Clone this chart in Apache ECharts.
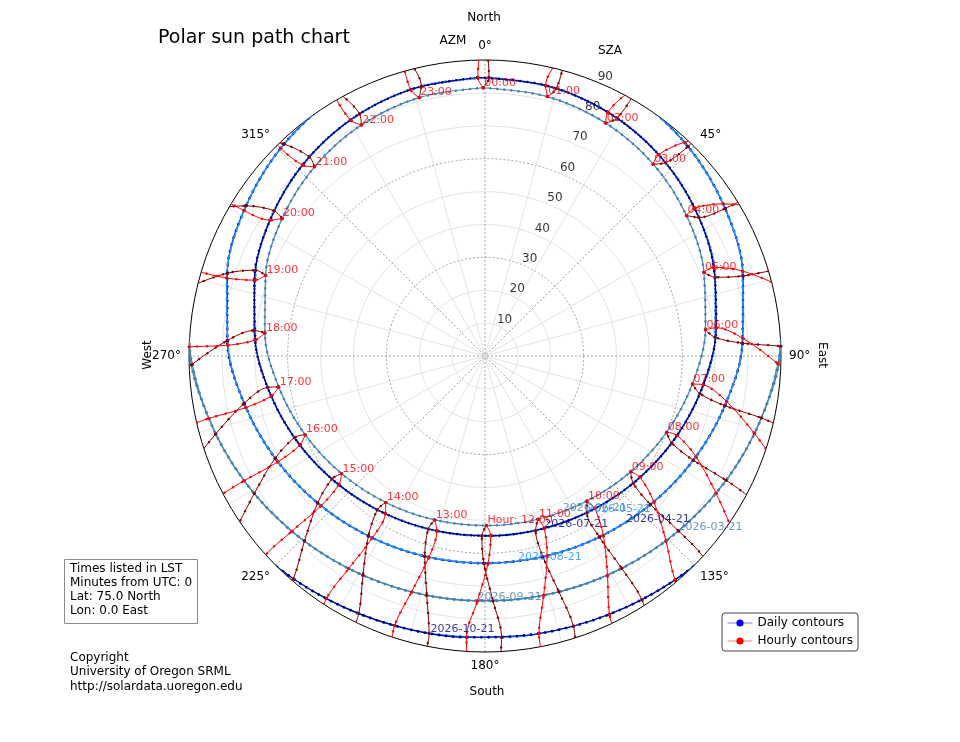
<!DOCTYPE html>
<html>
<head>
<meta charset="utf-8">
<title>Polar sun path chart</title>
<script src="https://cdn.jsdelivr.net/npm/echarts@6/dist/echarts.min.js"></script>
<style>
  html, body { margin: 0; padding: 0; background: #fff; }
  #main { width: 960px; height: 742px; }
</style>
</head>
<body>
<div id="main"></div>
<script>
// local standard time of each column below
var hours = ['00:00', '01:00', '02:00', '03:00', '04:00', '05:00', '06:00', '07:00',
  '08:00', '09:00', '10:00', '11:00', '12:00', '13:00', '14:00', '15:00',
  '16:00', '17:00', '18:00', '19:00', '20:00', '21:00', '22:00', '23:00'];

// solar zenith angle (deg) and azimuth (deg from north) on the 21st of each month, hour by hour
var janSza = [null, null, null, null, null, null, null, null, null, 99.51, 97.13, 95.56, 94.90, 95.20, 96.43, 98.53, null, null, null, null, null, null, null, null];
var janAzm = [null, null, null, null, null, null, null, null, null, 135.04, 149.09, 163.19, 177.33, 191.49, 205.61, 219.68, null, null, null, null, null, null, null, null];
var febSza = [null, null, null, null, null, 105.06, 101.22, 97.37, 93.75, 90.59, 88.09, 86.42, 85.70, 85.97, 87.22, 89.35, 92.23, 95.67, 99.44, 103.32, null, null, null, null];
var febAzm = [null, null, null, null, null, 74.89, 89.50, 103.91, 118.27, 132.68, 147.21, 161.87, 176.63, 191.40, 206.11, 220.70, 235.17, 249.53, 263.90, 278.41, null, null, null, null];
var marSza = [104.50, 104.10, 102.70, 100.39, 97.36, 93.81, 89.98, 86.13, 82.49, 79.30, 76.79, 75.15, 74.50, 74.90, 76.31, 78.63, 81.67, 85.22, 89.05, 92.91, 96.54, 99.72, 102.22, 103.86];
var marAzm = [358.14, 13.62, 28.97, 44.10, 58.97, 73.61, 88.13, 102.64, 117.26, 132.11, 147.23, 162.60, 178.13, 193.68, 209.10, 224.29, 239.20, 253.86, 268.39, 282.89, 297.49, 312.30, 327.37, 342.68];
var aprSza = [93.00, 92.49, 91.02, 88.70, 85.68, 82.15, 78.34, 74.48, 70.82, 67.62, 65.12, 63.53, 63.00, 63.58, 65.20, 67.73, 70.96, 74.63, 78.49, 82.30, 85.81, 88.80, 91.09, 92.52];
var aprAzm = [0.29, 14.97, 29.58, 44.07, 58.44, 72.76, 87.14, 101.70, 116.58, 131.92, 147.71, 163.90, 180.33, 196.75, 212.93, 228.70, 244.02, 258.88, 273.44, 287.82, 302.14, 316.51, 331.00, 345.61];
var maySza = [84.70, 84.17, 82.72, 80.44, 77.47, 73.99, 70.20, 66.33, 62.63, 59.38, 56.83, 55.21, 54.70, 55.35, 57.08, 59.73, 63.05, 66.77, 70.65, 74.41, 77.85, 80.74, 82.93, 84.28];
var mayAzm = [0.82, 14.94, 29.03, 43.05, 57.07, 71.13, 85.37, 99.93, 114.97, 130.64, 146.95, 163.82, 181.01, 198.17, 214.99, 231.22, 246.81, 261.79, 276.31, 290.52, 304.57, 318.58, 332.61, 346.70];
var junSza = [81.56, 81.12, 79.76, 77.58, 74.69, 71.27, 67.51, 63.64, 59.91, 56.57, 53.91, 52.18, 51.56, 52.12, 53.79, 56.40, 59.70, 63.42, 67.29, 71.07, 74.51, 77.43, 79.66, 81.07];
var junAzm = [359.61, 13.52, 27.40, 41.25, 55.11, 69.04, 83.20, 97.70, 112.73, 128.45, 144.90, 162.01, 179.50, 197.01, 214.14, 230.63, 246.39, 261.46, 275.99, 290.16, 304.11, 317.97, 331.82, 345.70];
var julSza = [84.70, 84.32, 83.02, 80.87, 78.00, 74.58, 70.83, 66.95, 63.21, 59.87, 57.18, 55.40, 54.70, 55.16, 56.72, 59.24, 62.47, 66.15, 70.02, 73.82, 77.32, 80.32, 82.63, 84.12];
var julAzm = [358.52, 12.64, 26.73, 40.77, 54.78, 68.82, 83.02, 97.52, 112.47, 128.04, 144.24, 161.03, 178.19, 195.39, 212.28, 228.62, 244.31, 259.38, 273.96, 288.21, 302.28, 316.29, 330.32, 344.40];
var augSza = [93.00, 92.56, 91.15, 88.89, 85.91, 82.42, 78.62, 74.75, 71.07, 67.83, 65.27, 63.61, 63.00, 63.50, 65.05, 67.53, 70.71, 74.36, 78.21, 82.03, 85.57, 88.61, 90.96, 92.45];
var augAzm = [359.24, 13.92, 28.54, 43.03, 57.41, 71.73, 86.10, 100.65, 115.50, 130.81, 146.56, 162.73, 179.15, 195.58, 211.78, 227.59, 242.94, 257.83, 272.40, 286.79, 301.11, 315.47, 329.96, 344.56];
var sepSza = [104.50, 103.86, 102.24, 99.73, 96.57, 92.93, 89.08, 85.25, 81.69, 78.65, 76.33, 74.91, 74.50, 75.14, 76.78, 79.28, 82.46, 86.10, 89.96, 93.78, 97.33, 100.37, 102.69, 104.10];
var sepAzm = [1.76, 17.22, 32.53, 47.60, 62.41, 77.01, 91.51, 106.04, 120.70, 135.61, 150.80, 166.22, 181.76, 197.30, 212.67, 227.79, 242.64, 257.26, 271.77, 286.29, 300.93, 315.80, 330.93, 346.28];
var octSza = [null, null, null, null, null, 103.22, 99.34, 95.57, 92.15, 89.28, 87.17, 85.95, 85.70, 86.45, 88.14, 90.66, 93.83, 97.47, 101.32, 105.16, null, null, null, null];
var octAzm = [null, null, null, null, null, 81.99, 96.49, 110.85, 125.22, 139.69, 154.28, 168.99, 183.77, 198.53, 213.18, 227.71, 242.12, 256.47, 270.89, 285.51, null, null, null, null];
var novSza = [null, null, null, null, null, null, null, null, null, 98.41, 96.35, 95.15, 94.90, 95.60, 97.21, 99.63, null, null, null, null, null, null, null, null];
var novAzm = [null, null, null, null, null, null, null, null, null, 140.98, 155.05, 169.17, 183.33, 197.47, 211.57, 225.62, null, null, null, null, null, null, null, null];

// where each date label sits on its own contour
var dateLabelText = ['2026-03-21', '2026-04-21', '2026-05-21', '2026-06-21', '2026-07-21', '2026-08-21', '2026-09-21', '2026-10-21'];
var dateLabelSza = [79.30, 66.37, 56.83, 52.95, 55.40, 63.25, 74.50, 86.00];
var dateLabelAzm = [132.11, 139.80, 146.95, 153.50, 161.03, 170.90, 181.76, 191.10];

var szaTicks = [10, 20, 30, 40, 50, 60, 70, 80, 90];

var FONT = "'DejaVu Sans', 'Liberation Sans', sans-serif";
var NAVY = '#00008b', DODGER = '#1e90ff', STEEL = '#4682b4';

var months = [
  { date: '2026-01-21', sza: janSza, azm: janAzm, color: NAVY, daily: false },
  { date: '2026-02-21', sza: febSza, azm: febAzm, color: DODGER, daily: true },
  { date: '2026-03-21', sza: marSza, azm: marAzm, color: STEEL, daily: true },
  { date: '2026-04-21', sza: aprSza, azm: aprAzm, color: NAVY, daily: true },
  { date: '2026-05-21', sza: maySza, azm: mayAzm, color: DODGER, daily: true },
  { date: '2026-06-21', sza: junSza, azm: junAzm, color: STEEL, daily: true },
  { date: '2026-07-21', sza: julSza, azm: julAzm, color: NAVY, daily: true },
  { date: '2026-08-21', sza: augSza, azm: augAzm, color: DODGER, daily: true },
  { date: '2026-09-21', sza: sepSza, azm: sepAzm, color: STEEL, daily: true },
  { date: '2026-10-21', sza: octSza, azm: octAzm, color: NAVY, daily: true },
  { date: '2026-11-21', sza: novSza, azm: novAzm, color: DODGER, daily: false }
];

function point(m, h) {
  return m.sza[h] == null ? ['-', '-'] : [m.sza[h], m.azm[h]];
}

var chart = echarts.init(document.getElementById('main'));
var series = [];

// daily contours (one per date), thin line plus a dotted overlay
months.forEach(function (m) {
  if (!m.daily) return;
  var data = hours.map(function (t, h) { return point(m, h); });
  data.push(point(m, 0));
  series.push({
    name: 'Daily contours', type: 'line', coordinateSystem: 'polar', data: data,
    smooth: 0.33, symbol: 'circle', symbolSize: 3.5, clip: true, silent: true, z: 2,
    lineStyle: { color: m.color, width: 1.2 }, itemStyle: { color: m.color }
  });
  series.push({
    name: m.date + ' dots', type: 'line', coordinateSystem: 'polar', data: data,
    smooth: 0.33, symbol: 'none', clip: true, silent: true, z: 2,
    lineStyle: { color: m.color, width: 2.6, type: [0.1, 7], cap: 'round' }
  });
});

// hourly contours: Jan->Jun in dark red, Jun->Nov in red
var firstHalf = months.slice(0, 6);
var secondHalf = months.slice(5);
hours.forEach(function (t, h) {
  [[firstHalf, '#8b0000'], [secondHalf, '#ff0000']].forEach(function (part) {
    var data = part[0].map(function (m) { return point(m, h); });
    series.push({
      name: 'Hourly contours', type: 'line', coordinateSystem: 'polar', data: data,
      smooth: 0.33, symbol: 'circle', symbolSize: 3, clip: true, silent: true, z: 4,
      lineStyle: { color: part[1], width: 1 }, itemStyle: { color: part[1] }
    });
    series.push({
      name: 'hour dots', type: 'line', coordinateSystem: 'polar', data: data,
      smooth: 0.33, symbol: 'none', clip: true, silent: true, z: 4,
      lineStyle: { color: part[1], width: 2.4, type: [0.1, 10], cap: 'round' }
    });
  });
});

// hour labels at the June 21 position of each hour
series.push({
  name: 'hour labels', type: 'scatter', coordinateSystem: 'polar', symbolSize: 0, silent: true, z: 6,
  data: hours.map(function (t, h) { return [junSza[h], junAzm[h]]; }),
  label: {
    show: true, position: 'right', distance: 1, offset: [0, -5],
    color: '#ff0000', fontSize: 11, fontFamily: FONT,
    formatter: function (p) { return p.dataIndex === 12 ? 'Hour: 12:00' : hours[p.dataIndex]; }
  }
});

// date labels
series.push({
  name: 'date labels', type: 'scatter', coordinateSystem: 'polar', symbolSize: 0, silent: true, z: 6,
  data: dateLabelText.map(function (d, i) {
    var c = months.filter(function (m) { return m.date === d; })[0].color;
    return { value: [dateLabelSza[i], dateLabelAzm[i]], label: { color: c } };
  }),
  label: {
    show: true, position: 'right', distance: 0, offset: [0, -4],
    fontSize: 11, fontFamily: FONT,
    formatter: function (p) { return dateLabelText[p.dataIndex]; }
  }
});

// SZA tick labels along the 22.5 deg direction
series.push({
  name: 'sza ticks', type: 'scatter', coordinateSystem: 'polar', symbolSize: 0, silent: true, clip: false, z: 1,
  data: szaTicks.map(function (t) { return [t, 22.5]; }),
  label: {
    show: true, position: 'inside', offset: [7, -6], color: '#000', fontSize: 12, fontFamily: FONT,
    formatter: function (p) { return String(szaTicks[p.dataIndex]); }
  }
});

var CLEAR = 'rgba(0,0,0,0)';
var option = {
  animation: false,
  backgroundColor: '#fff',
  polar: [
    { center: [485, 356], radius: 296 },
    { center: [485, 356], radius: 296 }
  ],
  angleAxis: [
    {
      polarIndex: 0, type: 'value', min: 0, max: 360, interval: 15, startAngle: 90, clockwise: true,
      axisLine: { show: true, lineStyle: { color: '#000', width: 1 } },
      axisTick: { show: false },
      axisLabel: {
        show: true, interval: 0, margin: 8, color: '#000', fontSize: 12, fontFamily: FONT,
        formatter: function (v) { return (v % 45 === 0 && v < 360) ? v + '°' : ''; }
      },
      splitLine: { show: true, lineStyle: { color: [CLEAR, '#dcdcdc', '#dcdcdc'], width: 0.8 } }
    },
    {
      polarIndex: 1, type: 'value', min: 0, max: 360, interval: 45, startAngle: 90, clockwise: true,
      axisLine: { show: false }, axisTick: { show: false }, axisLabel: { show: false },
      splitLine: { show: true, lineStyle: { color: '#8c8c8c', width: 0.8, type: [2, 2] } }
    }
  ],
  radiusAxis: [
    {
      polarIndex: 0, type: 'value', min: 0, max: 90, interval: 10,
      axisLine: { show: false }, axisTick: { show: false }, axisLabel: { show: false },
      splitLine: { show: true, lineStyle: { color: [CLEAR, '#dcdcdc', '#dcdcdc'], width: 0.8 } }
    },
    {
      polarIndex: 1, type: 'value', min: 0, max: 90, interval: 30,
      axisLine: { show: false }, axisTick: { show: false }, axisLabel: { show: false },
      splitLine: { show: true, lineStyle: { color: [CLEAR, '#8c8c8c', '#8c8c8c', CLEAR], width: 0.8, type: [2, 2] } }
    }
  ],
  legend: {
    left: 722, top: 613, orient: 'vertical', itemGap: 6, itemWidth: 25, itemHeight: 9,
    padding: [4, 5], borderColor: '#444', borderWidth: 1, borderRadius: 3, backgroundColor: '#fff',
    textStyle: { color: '#000', fontSize: 12, fontFamily: FONT },
    selectedMode: false,
    data: [
      { name: 'Daily contours', itemStyle: { color: '#0000ff' }, lineStyle: { color: '#7f7fff', width: 1, type: 'solid' } },
      { name: 'Hourly contours', itemStyle: { color: '#ff0000' }, lineStyle: { color: '#ff7f7f', width: 1, type: 'solid' } }
    ]
  },
  graphic: [
    { type: 'text', x: 158, y: 38, style: { text: 'Polar sun path chart', fontSize: 19, fontFamily: FONT, fill: '#000', align: 'left', verticalAlign: 'middle' } },
    { type: 'text', x: 484, y: 18, style: { text: 'North', fontSize: 12, fontFamily: FONT, fill: '#000', align: 'center', verticalAlign: 'middle' } },
    { type: 'text', x: 453, y: 41, style: { text: 'AZM', fontSize: 12, fontFamily: FONT, fill: '#000', align: 'center', verticalAlign: 'middle' } },
    { type: 'text', x: 610, y: 51, style: { text: 'SZA', fontSize: 12, fontFamily: FONT, fill: '#000', align: 'center', verticalAlign: 'middle' } },
    { type: 'text', x: 487, y: 692, style: { text: 'South', fontSize: 12, fontFamily: FONT, fill: '#000', align: 'center', verticalAlign: 'middle' } },
    { type: 'text', x: 822, y: 355, rotation: -Math.PI / 2, style: { text: 'East', fontSize: 12, fontFamily: FONT, fill: '#000', align: 'center', verticalAlign: 'middle' } },
    { type: 'text', x: 148, y: 355, rotation: Math.PI / 2, style: { text: 'West', fontSize: 12, fontFamily: FONT, fill: '#000', align: 'center', verticalAlign: 'middle' } },
    { type: 'rect', shape: { x: 64.5, y: 559.5, width: 133, height: 64 }, style: { fill: '#fff', stroke: '#8c8c8c', lineWidth: 1 } },
    { type: 'text', x: 70, y: 569, style: { text: 'Times listed in LST', fontSize: 12, fontFamily: FONT, fill: '#000', verticalAlign: 'middle' } },
    { type: 'text', x: 70, y: 583, style: { text: 'Minutes from UTC: 0', fontSize: 12, fontFamily: FONT, fill: '#000', verticalAlign: 'middle' } },
    { type: 'text', x: 70, y: 597, style: { text: 'Lat: 75.0 North', fontSize: 12, fontFamily: FONT, fill: '#000', verticalAlign: 'middle' } },
    { type: 'text', x: 70, y: 611, style: { text: 'Lon: 0.0 East', fontSize: 12, fontFamily: FONT, fill: '#000', verticalAlign: 'middle' } },
    { type: 'text', x: 70, y: 658, style: { text: 'Copyright', fontSize: 12, fontFamily: FONT, fill: '#000', verticalAlign: 'middle' } },
    { type: 'text', x: 70, y: 672, style: { text: 'University of Oregon SRML', fontSize: 12, fontFamily: FONT, fill: '#000', verticalAlign: 'middle' } },
    { type: 'text', x: 70, y: 687, style: { text: 'http://solardata.uoregon.edu', fontSize: 12, fontFamily: FONT, fill: '#000', verticalAlign: 'middle' } }
  ],
  series: series
};

chart.setOption(option);
</script>
</body>
</html>
